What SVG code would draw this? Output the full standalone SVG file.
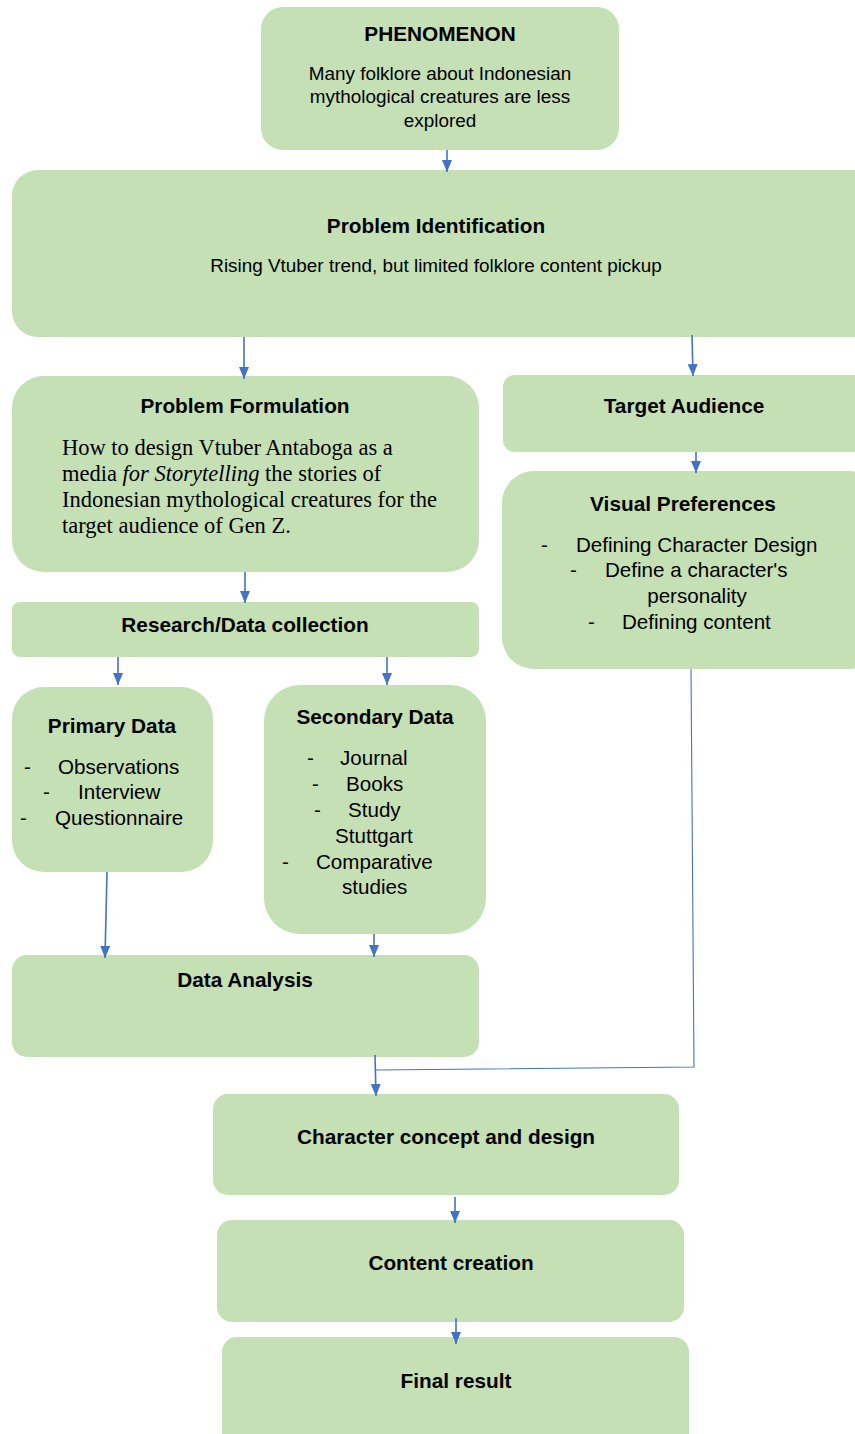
<svg xmlns="http://www.w3.org/2000/svg" width="855" height="1434" viewBox="0 0 855 1434">
<style>
.box{fill:#C5E0B4;}
.t{font-family:"Liberation Sans",Arial,sans-serif;font-weight:bold;font-size:20.8px;fill:#000;text-anchor:middle;}
.b{font-family:"Liberation Sans",Arial,sans-serif;font-size:18.9px;fill:#000;}
.l{font-family:"Liberation Sans",Arial,sans-serif;font-size:20.6px;fill:#000;}
.bc{text-anchor:middle;}
.s{font-family:"Liberation Serif","Times New Roman",serif;font-size:22.5px;fill:#000;}
.c{stroke:#4472C4;stroke-width:1.6;fill:none;}
.thin{stroke:#4472C4;stroke-width:1.1;fill:none;}
</style>
<defs>
<marker id="ah" markerUnits="userSpaceOnUse" markerWidth="12" markerHeight="12" viewBox="0 0 12 12" refX="12" refY="6" orient="auto">
<path d="M0,1 L12,6 L0,11 Z" fill="#4472C4"/>
</marker>
</defs>
<rect width="855" height="1434" fill="#fff"/>
<g id="phenomenon">
<rect class="box" x="261" y="7" width="358" height="143" rx="22"/>
<text class="t" x="440" y="41">PHENOMENON</text>
<text class="b bc" x="440" y="80">Many folklore about Indonesian</text>
<text class="b bc" x="440" y="103">mythological creatures are less</text>
<text class="b bc" x="440" y="127">explored</text>
</g>
<g id="problem-identification">
<rect class="box" x="12" y="170" width="873" height="167" rx="26"/>
<text class="t" x="436" y="233">Problem Identification</text>
<text class="b bc" x="436" y="272">Rising Vtuber trend, but limited folklore content pickup</text>
</g>
<g id="problem-formulation">
<rect class="box" x="12" y="376" width="467" height="196" rx="32"/>
<text class="t" x="245" y="413">Problem Formulation</text>
<text class="s" x="62" y="455">How to design Vtuber Antaboga as a</text>
<text class="s" x="62" y="481">media <tspan font-style="italic">for Storytelling</tspan> the stories of</text>
<text class="s" x="62" y="507">Indonesian mythological creatures for the</text>
<text class="s" x="62" y="533">target audience of Gen Z.</text>
</g>
<g id="target-audience">
<rect class="box" x="503" y="375" width="380" height="77" rx="12"/>
<text class="t" x="684" y="413">Target Audience</text>
</g>
<g id="visual-preferences">
<rect class="box" x="502" y="471" width="380" height="198" rx="32"/>
<text class="t" x="683" y="511">Visual Preferences</text>
<text class="l" x="541" y="552">-</text>
<text class="l" x="576" y="552">Defining Character Design</text>
<text class="l" x="570" y="577">-</text>
<text class="l" x="605" y="577">Define a character's</text>
<text class="l bc" x="697" y="603">personality</text>
<text class="l" x="588" y="629">-</text>
<text class="l" x="622" y="629">Defining content</text>
</g>
<g id="research">
<rect class="box" x="12" y="602" width="467" height="55" rx="8"/>
<text class="t" x="245" y="632">Research/Data collection</text>
</g>
<g id="primary-data">
<rect class="box" x="12" y="687" width="201" height="185" rx="32"/>
<text class="t" x="112" y="733">Primary Data</text>
<text class="l" x="24" y="774">-</text>
<text class="l" x="58" y="774">Observations</text>
<text class="l" x="43" y="799">-</text>
<text class="l" x="78" y="799">Interview</text>
<text class="l" x="20" y="825">-</text>
<text class="l" x="55" y="825">Questionnaire</text>
</g>
<g id="secondary-data">
<rect class="box" x="264" y="685" width="222" height="249" rx="36"/>
<text class="t" x="375" y="724">Secondary Data</text>
<text class="l" x="307" y="765">-</text>
<text class="l" x="340" y="765">Journal</text>
<text class="l" x="312" y="791">-</text>
<text class="l" x="346" y="791">Books</text>
<text class="l" x="314" y="817">-</text>
<text class="l" x="348" y="817">Study</text>
<text class="l" x="335" y="843">Stuttgart</text>
<text class="l" x="282" y="869">-</text>
<text class="l" x="316" y="869">Comparative</text>
<text class="l" x="342" y="894">studies</text>
</g>
<g id="data-analysis">
<rect class="box" x="12" y="955" width="467" height="102" rx="15"/>
<text class="t" x="245" y="987">Data Analysis</text>
</g>
<g id="character-concept">
<rect class="box" x="213" y="1094" width="466" height="101" rx="15"/>
<text class="t" x="446" y="1144">Character concept and design</text>
</g>
<g id="content-creation">
<rect class="box" x="217" y="1220" width="467" height="102" rx="15"/>
<text class="t" x="451" y="1270">Content creation</text>
</g>
<g id="final-result">
<rect class="box" x="222" y="1337" width="467" height="120" rx="15"/>
<text class="t" x="456" y="1388">Final result</text>
</g>
<g id="connectors">
<line class="c" x1="447" y1="150" x2="447" y2="172" marker-end="url(#ah)"/>
<line class="c" x1="244" y1="337" x2="244" y2="379" marker-end="url(#ah)"/>
<line class="c" x1="692" y1="335" x2="693" y2="376" marker-end="url(#ah)"/>
<line class="c" x1="696" y1="452" x2="696" y2="473" marker-end="url(#ah)"/>
<line class="c" x1="245" y1="572" x2="245" y2="603" marker-end="url(#ah)"/>
<line class="c" x1="118" y1="657" x2="118" y2="685" marker-end="url(#ah)"/>
<line class="c" x1="387" y1="657" x2="387" y2="685" marker-end="url(#ah)"/>
<line class="c" x1="107" y1="872" x2="105" y2="958" marker-end="url(#ah)"/>
<line class="c" x1="374" y1="934" x2="374" y2="957" marker-end="url(#ah)"/>
<polyline class="thin" points="691,669 694,1067 376,1070"/>
<line class="c" x1="375" y1="1055" x2="376" y2="1096" marker-end="url(#ah)"/>
<line class="c" x1="455" y1="1197" x2="455" y2="1223" marker-end="url(#ah)"/>
<line class="c" x1="456" y1="1318" x2="456" y2="1344" marker-end="url(#ah)"/>
</g>
</svg>
